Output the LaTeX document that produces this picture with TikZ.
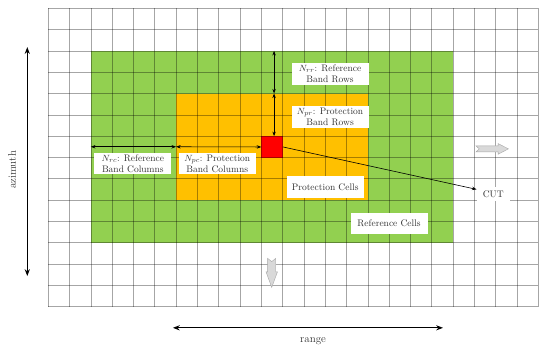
\documentclass[tikz,border=0pt]{standalone}
\usepackage{tikz}
\usetikzlibrary{arrows.meta,positioning,calc}
\definecolor{refgreen}{HTML}{92D050}
\definecolor{protorange}{HTML}{FFC000}
\definecolor{cutred}{HTML}{FF0000}
\definecolor{blockgray}{HTML}{D9D9D9}

\begin{document}
\begin{tikzpicture}[x=21.3pt, y=-21.3pt, every node/.style={font=\fontsize{9.5}{11}\selectfont, text=black!80},
  band/.style={fill=white, align=center, inner sep=0pt, minimum width=77pt, minimum height=21.5pt},
  axislabel/.style={font=\fontsize{11}{13}\selectfont},
  gridline/.style={black, opacity=0.35, line width=0.6pt},
  dimarr/.style={{Stealth[length=1.6mm]}-{Stealth[length=1.6mm]}, semithick},
  axisarr/.style={{Stealth[length=2.4mm]}-{Stealth[length=2.4mm]}, line width=1.2pt},
  blockarr/.style={fill=blockgray, draw=black!35, thin}]
\useasboundingbox (-2.267,-0.39) rectangle (23.554,16.136);
% bands and cell under test
\fill[refgreen] (2,2) rectangle (19,11);
\fill[protorange] (6,4) rectangle (15,9);
\node[fill=cutred, minimum size=21.3pt, inner sep=0pt, anchor=north west] (cell) at (10,6) {};
\foreach \c in {0,...,23} \draw[gridline] (\c,0) -- (\c,14);
\foreach \r in {0,...,14} \draw[gridline] (0,\r) -- (23,\r);
% band sizes
\coordinate (refTop) at (10.6,2);
\coordinate (protTop) at (10.6,4);
\coordinate (refLeft) at (2,6.5);
\coordinate (protLeft) at (6,6.5);
\draw[dimarr] (refTop) -- (protTop);
\draw[dimarr] (protTop) -- (cell.north -| protTop);
\draw[dimarr] (refLeft) -- (protLeft);
\draw[dimarr] (protLeft) -- (cell.west);
\node[band] (rr) at (13.23,3.09) {$N_{rr}$: Reference\\Band Rows};
\node[band, below=21pt of rr] (pr) {$N_{pr}$: Protection\\Band Rows};
\node[band] (rc) at (3.97,7.29) {$N_{rc}$: Reference\\Band Columns};
\node[band, right=7pt of rc] (pc) {$N_{pc}$: Protection\\Band Columns};
\node[band] (protcells) at (13.0,8.40) {Protection Cells};
\node[band] (refcells) at (16.0,10.11) {Reference Cells};
\node[fill=white, minimum width=33pt, minimum height=14pt, inner sep=0pt] (cut) at (20.89,8.71) {CUT};
\draw[-{Stealth[length=1.6mm]}, semithick] (cell.east) -- (cut.165);
% sliding directions
\begin{scope}[shift={(20.08,6.6)}]
\draw[blockarr] (0,-0.14) -- (1.04,-0.14) -- (1.04,-0.25) -- (1.52,0) -- (1.04,0.25) -- (1.04,0.14) -- (0,0.14) -- (0.155,0) -- cycle;
\end{scope}
\begin{scope}[shift={(10.49,11.74)}, rotate=-90]
\draw[blockarr] (0,-0.19) -- (0.63,-0.19) -- (0.63,-0.27) -- (1.36,0) -- (0.63,0.27) -- (0.63,0.19) -- (0,0.19) -- (0.15,0) -- cycle;
\end{scope}
% axes
\coordinate (azTop) at (-0.986,1.82);
\coordinate (azBot) at (-0.986,12.57);
\coordinate (rgLeft) at (5.85,15.0);
\coordinate (rgRight) at (18.53,15.0);
\draw[axisarr] (azTop) -- (azBot);
\draw[axisarr] (rgLeft) -- (rgRight);
\node[axislabel, rotate=90] (azimuth) at (-1.70,7.59) {azimuth};
\node[axislabel] (range) at (12.43,15.62) {range};
\end{tikzpicture}
\end{document}
